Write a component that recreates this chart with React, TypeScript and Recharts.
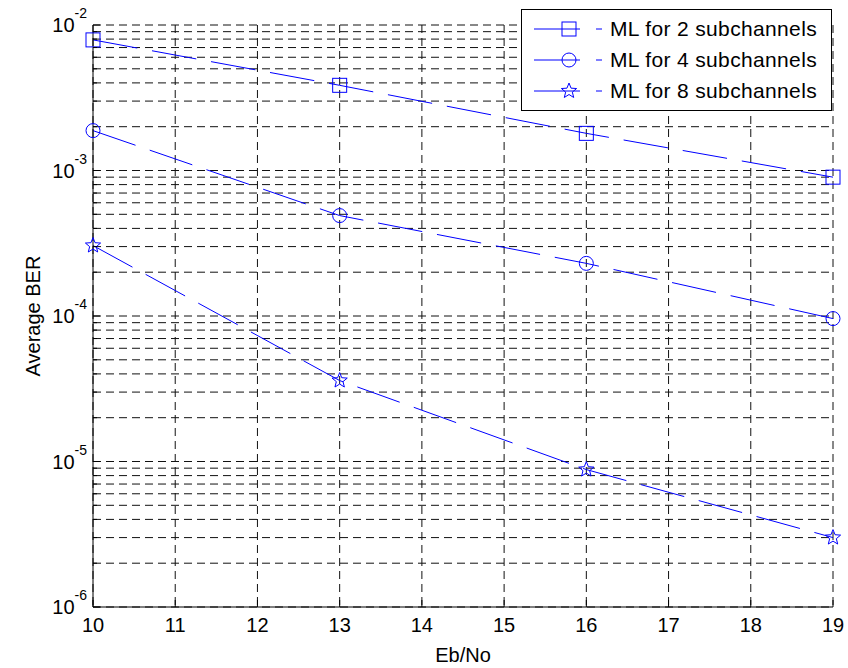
import React from 'react';
import { LineChart, Line, XAxis, YAxis, CartesianGrid, Legend } from 'recharts';

// Eb/No points where BER was simulated
const EBNO = [10, 13, 16, 19];

// average BER
const BER_2_SUB = [7.9e-3, 3.85e-3, 1.8e-3, 9.0e-4];
const BER_4_SUB = [1.88e-3, 4.9e-4, 2.3e-4, 9.6e-5];
const BER_8_SUB = [3.05e-4, 3.6e-5, 8.8e-6, 3.0e-6];

const SERIES_NAMES = ['ML for 2 subchannels', 'ML for 4 subchannels', 'ML for 8 subchannels'];
const SERIES_KEYS = ['ml2', 'ml4', 'ml8'];
const MARKERS = ['square', 'circle', 'star'];

const X_TICKS = [10, 11, 12, 13, 14, 15, 16, 17, 18, 19];
const Y_DECADES = [1e-6, 1e-5, 1e-4, 1e-3, 1e-2];
const Y_MINOR_MULT = [2, 3, 4, 5, 6, 7, 8, 9];

const BLUE = '#0000ff';
const FONT = '"Liberation Sans", Arial, Helvetica, sans-serif';

const data = EBNO.map((x, i) => ({
  ebno: x,
  ml2: BER_2_SUB[i],
  ml4: BER_4_SUB[i],
  ml8: BER_8_SUB[i],
}));

const yTicks: number[] = [];
Y_DECADES.forEach((d, i) => {
  yTicks.push(d);
  if (i < Y_DECADES.length - 1) Y_MINOR_MULT.forEach(m => yTicks.push(m * d));
});

const isMajor = (v: number) => Math.abs(Math.log10(v) - Math.round(Math.log10(v))) < 1e-6;

const Marker = ({ cx, cy, shape }: { cx: number; cy: number; shape: string }) => {
  if (shape === 'square') {
    return <rect x={cx - 7} y={cy - 7} width={14} height={14} fill="none" stroke={BLUE} />;
  }
  if (shape === 'circle') {
    return <circle cx={cx} cy={cy} r={7} fill="none" stroke={BLUE} />;
  }
  const pts: string[] = [];
  for (let k = 0; k < 10; k++) {
    const r = k % 2 === 0 ? 8 : 3.5;
    const a = -Math.PI / 2 + (k * Math.PI) / 5;
    pts.push(`${cx + r * Math.cos(a)},${cy + r * Math.sin(a)}`);
  }
  return <polygon points={pts.join(' ')} fill="none" stroke={BLUE} />;
};

const renderDot = (shape: string) => (props: any) => {
  if (props.cx == null || props.cy == null) return <g key={`${shape}-${props.index}`} />;
  return (
    <g key={`${shape}-${props.index}`}>
      <Marker cx={props.cx} cy={props.cy} shape={shape} />
    </g>
  );
};

const BottomTick = ({ x, y, payload }: any) => (
  <g>
    <line x1={x} y1={y} x2={x} y2={y - 7} stroke="#000" />
    <text x={x} y={y + 25} textAnchor="middle" fontSize={20} fontFamily={FONT} fill="#000">
      {payload.value}
    </text>
  </g>
);

const TopTick = ({ x, y }: any) => <line x1={x} y1={y} x2={x} y2={y + 7} stroke="#000" />;

const LeftTick = ({ x, y, payload }: any) => {
  const major = isMajor(payload.value);
  if (!major) return <line x1={x} y1={y} x2={x + 4} y2={y} stroke="#000" />;
  const exp = Math.round(Math.log10(payload.value));
  return (
    <g>
      <line x1={x} y1={y} x2={x + 7} y2={y} stroke="#000" />
      <text x={x - 6} y={y + 7} textAnchor="end" fontSize={20} fontFamily={FONT} fill="#000">
        <tspan>10</tspan>
        <tspan dy={-14} fontSize={14}>{exp}</tspan>
      </text>
    </g>
  );
};

const RightTick = ({ x, y, payload }: any) => {
  const len = isMajor(payload.value) ? 7 : 4;
  return <line x1={x} y1={y} x2={x - len} y2={y} stroke="#000" />;
};

const YLabel = ({ viewBox }: any) => {
  const cx = viewBox.x;
  const cy = viewBox.y + viewBox.height / 2;
  return (
    <text x={cx} y={cy} transform={`rotate(-90 ${cx} ${cy})`} textAnchor="middle" dominantBaseline="central"
      fontSize={20} fontFamily={FONT} fill="#000">
      Average BER
    </text>
  );
};

const XLabel = ({ viewBox }: any) => {
  const cx = viewBox.x + viewBox.width / 2;
  const cy = viewBox.y + 48;
  return (
    <text x={cx} y={cy} textAnchor="middle" dominantBaseline="central" fontSize={20} fontFamily={FONT} fill="#000">
      Eb/No
    </text>
  );
};

const renderLegend = () => (
  <div style={{ width: 311, height: 102, border: '1px solid #000', background: '#fff', boxSizing: 'border-box' }}>
    <svg width={309} height={100}>
      {SERIES_NAMES.map((name, i) => {
        const cy = 19 + i * 31;
        return (
          <g key={name}>
            <line x1={12} y1={cy} x2={80} y2={cy} stroke={BLUE} strokeDasharray="46 16" />
            <Marker cx={47} cy={cy} shape={MARKERS[i]} />
            <text x={88} y={cy + 7} fontSize={21} letterSpacing={0.35} fontFamily={FONT} fill="#000">
              {name}
            </text>
          </g>
        );
      })}
    </svg>
  </div>
);

export default function App() {
  return (
    <div style={{ position: 'absolute', left: 0, top: 0, background: '#fff' }}>
      <LineChart width={848} height={668} data={data} margin={{ top: 25, right: 15, bottom: 31, left: 33 }}>
        <CartesianGrid stroke="#111" strokeDasharray="8 5" />
        <XAxis
          xAxisId={0}
          dataKey="ebno"
          type="number"
          domain={[10, 19]}
          ticks={X_TICKS}
          interval={0}
          height={30}
          tickSize={0}
          tickMargin={0}
          tickLine={false}
          axisLine={{ stroke: '#000' }}
          tick={<BottomTick />}
          label={<XLabel />}
        />
        <XAxis
          xAxisId="top"
          orientation="top"
          dataKey="ebno"
          type="number"
          domain={[10, 19]}
          ticks={X_TICKS}
          interval={0}
          height={0}
          tickSize={0}
          tickMargin={0}
          tickLine={false}
          axisLine={{ stroke: '#000' }}
          tick={<TopTick />}
        />
        <YAxis
          yAxisId={0}
          scale="log"
          type="number"
          domain={[1e-6, 1e-2]}
          allowDataOverflow
          ticks={yTicks}
          interval={0}
          width={60}
          tickSize={0}
          tickMargin={0}
          tickLine={false}
          axisLine={{ stroke: '#000' }}
          tick={<LeftTick />}
          label={<YLabel />}
        />
        <YAxis
          yAxisId="right"
          orientation="right"
          scale="log"
          type="number"
          domain={[1e-6, 1e-2]}
          allowDataOverflow
          ticks={yTicks}
          interval={0}
          width={0}
          tickSize={0}
          tickMargin={0}
          tickLine={false}
          axisLine={{ stroke: '#000' }}
          tick={<RightTick />}
        />
        {SERIES_KEYS.map((k, i) => (
          <Line
            key={k}
            xAxisId={0}
            yAxisId={0}
            type="linear"
            dataKey={k}
            name={SERIES_NAMES[i]}
            stroke={BLUE}
            strokeWidth={1}
            strokeDasharray="45 15"
            dot={renderDot(MARKERS[i])}
            activeDot={false}
            isAnimationActive={false}
          />
        ))}
        <Legend
          layout="vertical"
          align="center"
          verticalAlign="middle"
          content={renderLegend}
          wrapperStyle={{ left: 521, top: 9, width: 311, height: 102 }}
        />
      </LineChart>
    </div>
  );
}
